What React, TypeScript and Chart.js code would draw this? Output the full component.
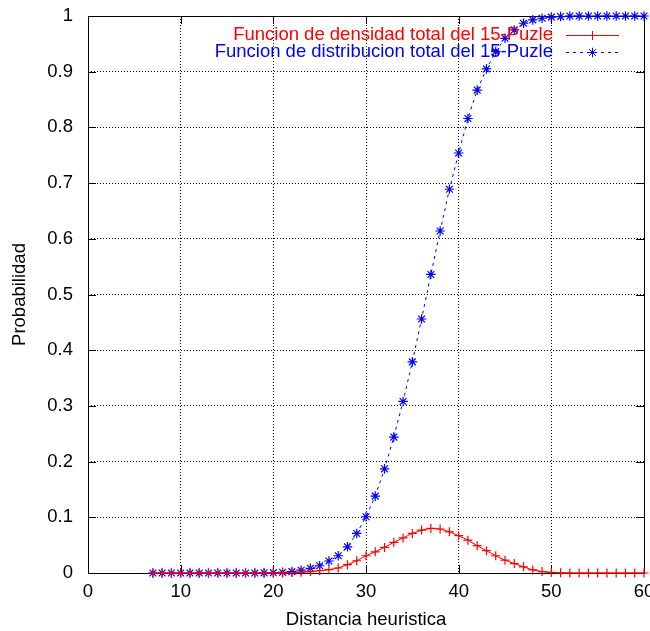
import React, { useEffect, useRef } from 'react';
import { Chart, registerables } from 'chart.js';
import { drawPoint } from 'chart.js/helpers';

Chart.register(...registerables);

const FONT_FAMILY = '"Liberation Sans", Arial, Helvetica, sans-serif';
const FONT_SIZE = 18.5;

const distances = [
  7, 8, 9, 10, 11, 12, 13, 14, 15, 16, 17, 18, 19, 20, 21, 22, 23, 24, 25, 26,
  27, 28, 29, 30, 31, 32, 33, 34, 35, 36, 37, 38, 39, 40, 41, 42, 43, 44, 45, 46,
  47, 48, 49, 50, 51, 52, 53, 54, 55, 56, 57, 58, 59, 60,
];

const densityValues = [
  0, 0, 0, 0, 0, 0, 0, 0, 0, 0, 0, 0, 0, 0.0002, 0.0004, 0.0008, 0.0015, 0.0025, 0.004, 0.006,
  0.009, 0.015, 0.022, 0.031, 0.038, 0.046, 0.055, 0.063, 0.071, 0.077, 0.08, 0.079, 0.074, 0.067, 0.059, 0.049, 0.04, 0.031, 0.023, 0.017,
  0.011, 0.0055, 0.0025, 0.001, 0.0004, 0, 0, 0, 0, 0, 0, 0, 0, 0,
];

const distributionValues = [
  0, 0, 0, 0, 0, 0, 0, 0, 0, 0, 0, 0, 0.0003, 0.0006, 0.0012, 0.0025, 0.005, 0.0084, 0.013, 0.0215,
  0.031, 0.047, 0.071, 0.101, 0.138, 0.187, 0.244, 0.308, 0.379, 0.456, 0.536, 0.614, 0.689, 0.754, 0.816, 0.867, 0.905, 0.936, 0.96, 0.975,
  0.987, 0.993, 0.996, 0.998, 0.999, 1, 1, 1, 1, 1, 1, 1, 1, 1,
];

const xTickValues = [0, 10, 20, 30, 40, 50, 60];
const yTickValues = [0, 0.1, 0.2, 0.3, 0.4, 0.5, 0.6, 0.7, 0.8, 0.9, 1];

const seriesLabels = [
  'Funcion de densidad total del 15-Puzle',
  'Funcion de distribucion total del 15-Puzle',
];
const xAxisTitle = 'Distancia heuristica';
const yAxisTitle = 'Probabilidad';

const TICK_LEN = 8;

const framePlugin = {
  id: 'gnuplotFrame',
  beforeDatasetsDraw(chart: any) {
    const { ctx, chartArea } = chart;
    const { left, right, top, bottom } = chartArea;
    const xs = chart.scales.x;
    const ys = chart.scales.y;
    ctx.save();
    ctx.strokeStyle = '#000';
    ctx.lineWidth = 1;
    ctx.setLineDash([]);
    ctx.beginPath();
    xTickValues.forEach((v) => {
      const px = Math.round(xs.getPixelForValue(v)) + 0.5;
      ctx.moveTo(px, bottom);
      ctx.lineTo(px, bottom - TICK_LEN);
      ctx.moveTo(px, top);
      ctx.lineTo(px, top + TICK_LEN);
    });
    yTickValues.forEach((v) => {
      const py = Math.round(ys.getPixelForValue(v)) + 0.5;
      ctx.moveTo(left, py);
      ctx.lineTo(left + TICK_LEN, py);
      ctx.moveTo(right, py);
      ctx.lineTo(right - TICK_LEN, py);
    });
    ctx.stroke();
    ctx.strokeRect(Math.round(left) + 0.5, Math.round(top) + 0.5, Math.round(right - left), Math.round(bottom - top));
    ctx.restore();
  },
};

const legendPlugin = {
  id: 'gnuplotLegend',
  afterDraw(chart: any) {
    const { ctx, chartArea } = chart;
    const textRight = chartArea.right - 91;
    const lineStart = chartArea.right - 78;
    const lineEnd = chartArea.right - 25;
    const markX = (lineStart + lineEnd) / 2;
    ctx.save();
    ctx.font = `${FONT_SIZE}px ${FONT_FAMILY}`;
    ctx.textAlign = 'right';
    ctx.textBaseline = 'middle';
    chart.data.datasets.forEach((ds: any, i: number) => {
      const y = chartArea.top + 18.5 + i * 17.5;
      const ly = Math.round(y) + 0.5;
      const color = ds.borderColor as string;
      ctx.fillStyle = color;
      ctx.fillText(ds.label, textRight, y);
      ctx.strokeStyle = color;
      ctx.lineWidth = 1;
      ctx.setLineDash(ds.borderDash || []);
      ctx.beginPath();
      ctx.moveTo(lineStart, ly);
      ctx.lineTo(lineEnd, ly);
      ctx.stroke();
      ctx.setLineDash([]);
      ctx.strokeStyle = color;
      drawPoint(ctx, { pointStyle: ds.pointStyle, radius: ds.pointRadius, borderWidth: ds.pointBorderWidth, rotation: 0 } as any, markX, ly);
    });
    ctx.restore();
  },
};

export default function App() {
  const canvasRef = useRef<HTMLCanvasElement | null>(null);

  useEffect(() => {
    if (!canvasRef.current) return;
    const font = { family: FONT_FAMILY, size: FONT_SIZE };
    const chart = new Chart(canvasRef.current, {
      type: 'line',
      data: {
        datasets: [
          {
            label: seriesLabels[0],
            data: distances.map((d, i) => ({ x: d, y: densityValues[i] })),
            borderColor: '#ff0000',
            backgroundColor: '#ff0000',
            borderWidth: 1,
            pointStyle: 'cross',
            pointRadius: 4.5,
            pointBorderWidth: 1.2,
            pointBorderColor: '#ff0000',
            tension: 0,
            fill: false,
            clip: 8,
          },
          {
            label: seriesLabels[1],
            data: distances.map((d, i) => ({ x: d, y: distributionValues[i] })),
            borderColor: '#0000ff',
            backgroundColor: '#0000ff',
            borderWidth: 1,
            borderDash: [3, 4],
            pointStyle: 'star',
            pointRadius: 4.8,
            pointBorderWidth: 1.2,
            pointBorderColor: '#0000ff',
            tension: 0,
            fill: false,
            clip: 8,
          },
        ],
      },
      options: {
        responsive: false,
        animation: false,
        devicePixelRatio: 1,
        layout: { padding: { left: 0, top: 16, right: 5, bottom: 0 } },
        plugins: {
          legend: { display: false },
          tooltip: { enabled: false },
        },
        scales: {
          x: {
            type: 'linear',
            min: 0,
            max: 60,
            afterBuildTicks: (s: any) => {
              s.ticks = xTickValues.map((v) => ({ value: v }));
            },
            afterFit: (s: any) => {
              s.height = 58;
              s.paddingLeft = 0;
              s.paddingRight = 0;
            },
            grid: { color: '#000', lineWidth: 1, drawTicks: false },
            border: { display: false, dash: [1, 2] },
            ticks: { font, color: '#000', padding: 8, maxRotation: 0, autoSkip: false },
            title: { display: true, text: xAxisTitle, font, color: '#000', padding: { top: 0, bottom: 0 } },
          },
          y: {
            type: 'linear',
            min: 0,
            max: 1,
            afterBuildTicks: (s: any) => {
              s.ticks = yTickValues.map((v) => ({ value: v }));
            },
            afterFit: (s: any) => {
              s.width = 88;
              s.paddingTop = 0;
              s.paddingBottom = 0;
            },
            grid: { color: '#000', lineWidth: 1, drawTicks: false },
            border: { display: false, dash: [1, 2] },
            ticks: {
              font,
              color: '#000',
              padding: 15,
              autoSkip: false,
              callback: (v: any) => String(Number(Number(v).toFixed(1))),
            },
            title: { display: true, text: yAxisTitle, font, color: '#000', padding: { top: 9, bottom: 0 } },
          },
        },
      },
      plugins: [framePlugin, legendPlugin],
    } as any);
    return () => chart.destroy();
  }, []);

  return (
    <div style={{ position: 'absolute', left: 0, top: 0, width: 650, height: 631, background: '#fff' }}>
      <canvas ref={canvasRef} width={650} height={631} style={{ display: 'block', width: 650, height: 631 }} />
    </div>
  );
}
